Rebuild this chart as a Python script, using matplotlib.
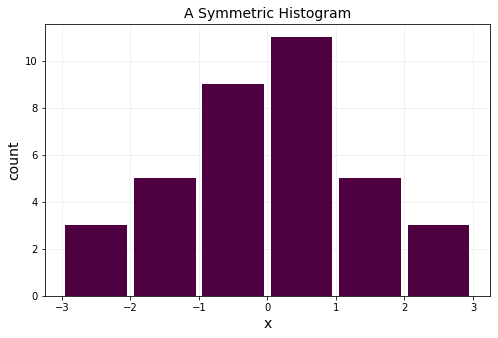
import numpy as np
import matplotlib
matplotlib.use("Agg")
import matplotlib.pyplot as plt

# bin edges and counts
bin_edges = [-3, -2, -1, 0, 1, 2, 3]
counts = [3, 5, 9, 11, 5, 3]
bar_color = "#4e0040"

fig, ax = plt.subplots(figsize=(498 / 72, 338 / 72), dpi=72)

centers = np.array(bin_edges[:-1]) + 0.5
ax.hist(centers, bins=bin_edges, weights=counts, rwidth=0.9,
        color=bar_color, zorder=3)

ax.set_xlim(-3.25, 3.25)
ax.set_title("A Symmetric Histogram", fontsize=14)
ax.set_xlabel("x", fontsize=14)
ax.set_ylabel("count", fontsize=14)
ax.grid(color="#eeeeee", linewidth=0.8, zorder=0)
ax.tick_params(labelsize=10)

fig.subplots_adjust(left=0.09, right=0.984, top=0.929, bottom=0.124)
fig.savefig("out.png", dpi=72)
